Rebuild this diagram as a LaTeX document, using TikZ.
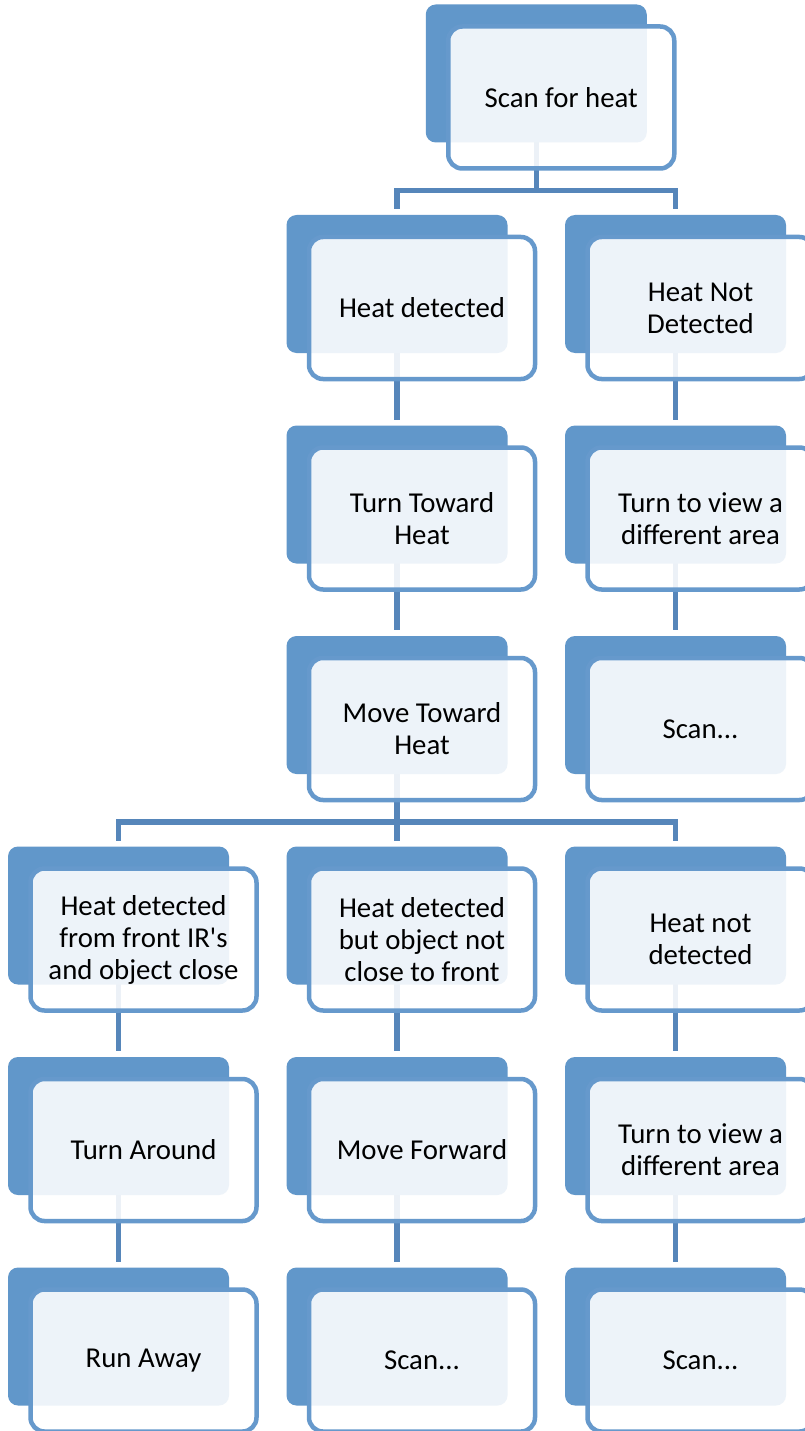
\documentclass[tikz,border=0pt]{standalone}
\usepackage{fontspec}
\setmainfont{Carlito}[Ligatures=TeXOff]
\usetikzlibrary{backgrounds}
\pgfdeclarelayer{bottom}
\pgfsetlayers{bottom,background,main}
\definecolor{boxfill}{HTML}{6197CA}
\definecolor{boxline}{HTML}{6699CC}
\definecolor{connline}{HTML}{5686BA}
\tikzset{
  x=1pt, y=1pt,
  darkbox/.style={rectangle, rounded corners=10pt, fill=boxfill, draw=none,
    minimum width=221pt, minimum height=138pt, inner sep=0pt, outer sep=0pt, anchor=north west},
  outbox/.style={rectangle, rounded corners=14pt, draw=boxline, line width=4.5pt,
    fill=white, fill opacity=0.89, draw opacity=1,
    minimum width=226pt, minimum height=142pt, inner sep=0pt, outer sep=0pt, anchor=north west},
  txt/.style={align=center, text=black, inner sep=0pt,
    font=\fontsize{28.8}{32}\selectfont},
  conn/.style={draw=connline, line width=5.5pt, line join=miter},
}
\newcommand\orgbox[4]{%
  \node[darkbox] (#1) at (#2,-#3) {};
  \node[outbox] (#1o) at (#2+22.5,-#3-22) {};
  \node[txt] (#1t) at (#1o.center) {#4};
}
\begin{document}
\begin{tikzpicture}
\useasboundingbox (0,0) rectangle (805,-1431);
\clip (0,0) rectangle (805,-1431);
\begin{pgfonlayer}{bottom}
  \fill[white] (0,0) rectangle (805,-1431);
\end{pgfonlayer}
% top
\orgbox{t}{425.75}{4.5}{Scan for heat}
% column B
\orgbox{b1}{286.5}{215}{Heat detected}
\orgbox{b2}{286.5}{425.5}{Turn Toward\\Heat}
\orgbox{b3}{286.5}{636}{Move Toward\\Heat}
\orgbox{b4}{286.5}{846.5}{Heat detected\\but object not\\close to front}
\orgbox{b5}{286.5}{1057}{Move Forward}
\orgbox{b6}{286.5}{1267.5}{Scan...}
% column C
\orgbox{c1}{565}{215}{Heat Not\\Detected}
\orgbox{c2}{565}{425.5}{Turn to view a\\different area}
\orgbox{c3}{565}{636}{Scan...}
\orgbox{c4}{565}{846.5}{Heat not\\detected}
\orgbox{c5}{565}{1057}{Turn to view a\\different area}
\orgbox{c6}{565}{1267.5}{Scan...}
% column A
\orgbox{a4}{8}{846.5}{Heat detected\\from front IR's\\and object close}
\orgbox{a5}{8}{1057}{Turn Around}
\orgbox{a6}{8}{1267.5}{Run Away}
\coordinate (j1) at (0,-190.5);
\coordinate (j2) at (0,-822);
\begin{pgfonlayer}{background}
  \draw[conn] (t.center) -- (t.center |- j1);
  \draw[conn] ([yshift=6pt]b1.north) |- (c1.north |- j1) -- ([yshift=6pt]c1.north);
  \draw[conn] (b1.center) -- ([yshift=6pt]b2.north);
  \draw[conn] (b2.center) -- ([yshift=6pt]b3.north);
  \draw[conn] (c1.center) -- ([yshift=6pt]c2.north);
  \draw[conn] (c2.center) -- ([yshift=6pt]c3.north);
  \draw[conn] (b3.center) -- ([yshift=6pt]b4.north);
  \draw[conn] ([yshift=6pt]a4.north) |- (c4.north |- j2) -- ([yshift=6pt]c4.north);
  \draw[conn] (a4.center) -- ([yshift=6pt]a5.north);
  \draw[conn] (a5.center) -- ([yshift=6pt]a6.north);
  \draw[conn] (b4.center) -- ([yshift=6pt]b5.north);
  \draw[conn] (b5.center) -- ([yshift=6pt]b6.north);
  \draw[conn] (c4.center) -- ([yshift=6pt]c5.north);
  \draw[conn] (c5.center) -- ([yshift=6pt]c6.north);
\end{pgfonlayer}
\end{tikzpicture}
\end{document}
